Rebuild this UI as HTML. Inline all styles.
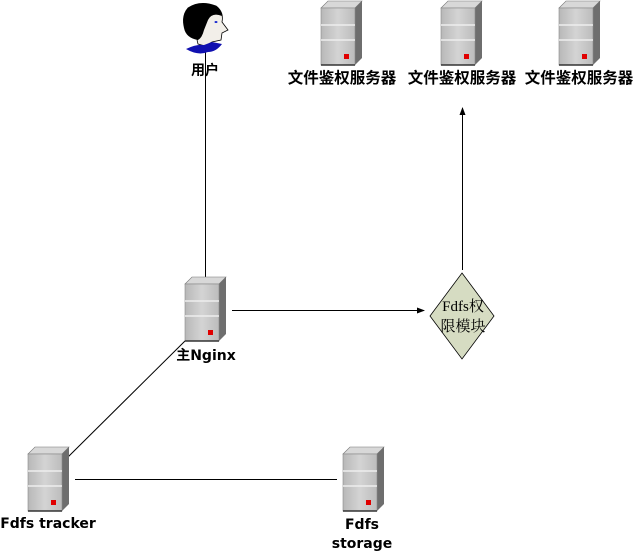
<!DOCTYPE html>
<html><head><meta charset="utf-8"><style>
body{margin:0;background:#fff;width:635px;height:553px;overflow:hidden}
text{font-family:"DejaVu Sans","Noto Sans CJK SC",sans-serif;font-weight:bold;font-size:14px;fill:#000}
</style></head><body>
<svg width="635" height="553" xmlns="http://www.w3.org/2000/svg">
<defs>
<linearGradient id="fr" x1="0" x2="1"><stop offset="0" stop-color="#b8b8b8"/><stop offset="0.5" stop-color="#d4d4d4"/><stop offset="1" stop-color="#bcbcbc"/></linearGradient>
<g id="srv">
<polygon points="0,7 7,0 41,0 34,7" fill="#d8d8d8" stroke="#777" stroke-width="0.6"/>
<polygon points="34,7 41,0 41,57 34,64" fill="#6e6e6e"/>
<rect x="0" y="7" width="34" height="57" fill="url(#fr)" stroke="#888" stroke-width="0.6"/>
<line x1="0" y1="24" x2="34" y2="24" stroke="#eee" stroke-width="1.5"/>
<line x1="0" y1="39" x2="34" y2="39" stroke="#eee" stroke-width="1.5"/>
<line x1="0" y1="64" x2="34" y2="64" stroke="#333" stroke-width="1.5"/>
<rect x="23" y="53" width="5" height="5" fill="#e00000"/>
</g>
<marker id="ar" markerWidth="8" markerHeight="8" refX="7" refY="4" orient="auto" markerUnits="userSpaceOnUse"><path d="M0,1 L8,4 L0,7 Z" fill="#000"/></marker>
</defs>
<g stroke="#000" stroke-width="1" fill="none">
<line x1="205.5" y1="50" x2="205.5" y2="278"/>
<line x1="232" y1="310.5" x2="424" y2="310.5" marker-end="url(#ar)"/>
<line x1="462.5" y1="270" x2="462.5" y2="108" marker-end="url(#ar)"/>
<line x1="68" y1="457" x2="186" y2="340"/>
<line x1="75" y1="479.5" x2="337" y2="479.5"/>
</g>
<use href="#srv" x="321" y="1"/>
<use href="#srv" x="441" y="1"/>
<use href="#srv" x="559" y="1"/>
<use href="#srv" x="185" y="277"/>
<use href="#srv" x="28" y="447"/>
<use href="#srv" x="343" y="447"/>
<path d="M188,8 Q200,0 216,6 Q224,12 222,22 L228,30 L222,33 L221,40 L212,42 L205,46 L198,44 Q196,38 198,33 Q188,38 185,28 Q181,16 188,8 Z" fill="#f2efe9" stroke="#000" stroke-width="0.8"/>
<path d="M188,8 Q200,0 216,6 Q222,10 222,16 Q212,12 208,20 L204,30 Q202,38 198,40 Q186,38 184,28 Q181,16 188,8 Z" fill="#000"/>
<ellipse cx="216" cy="22" rx="1.5" ry="1" fill="#1a2bd0"/>
<path d="M186,49 Q196,44 204,45 L212,42 L222,44 Q216,52 208,52 Q198,56 186,49 Z" fill="#1010b0"/>
<polygon points="462,273 494,316 462,359 430,316" fill="#d6dcc2" stroke="#000" stroke-width="0.8"/>
<text x="463" y="311" text-anchor="middle" style="font-family:'Liberation Serif','Noto Serif CJK SC',serif;font-weight:normal;font-size:15px">Fdfs权</text>
<text x="463" y="331" text-anchor="middle" style="font-family:'Liberation Serif','Noto Serif CJK SC',serif;font-weight:normal;font-size:15px">限模块</text>
<text x="205" y="75" text-anchor="middle">用户</text>
<text x="342" y="83" text-anchor="middle" style="font-size:15.5px">文件鉴权服务器</text>
<text x="462" y="83" text-anchor="middle" style="font-size:15.5px">文件鉴权服务器</text>
<text x="579" y="83" text-anchor="middle" style="font-size:15.5px">文件鉴权服务器</text>
<text x="206" y="360" text-anchor="middle">主Nginx</text>
<text x="48" y="528" text-anchor="middle">Fdfs tracker</text>
<text x="362" y="529" text-anchor="middle">Fdfs</text>
<text x="362" y="548" text-anchor="middle">storage</text>
</svg>
</body></html>
